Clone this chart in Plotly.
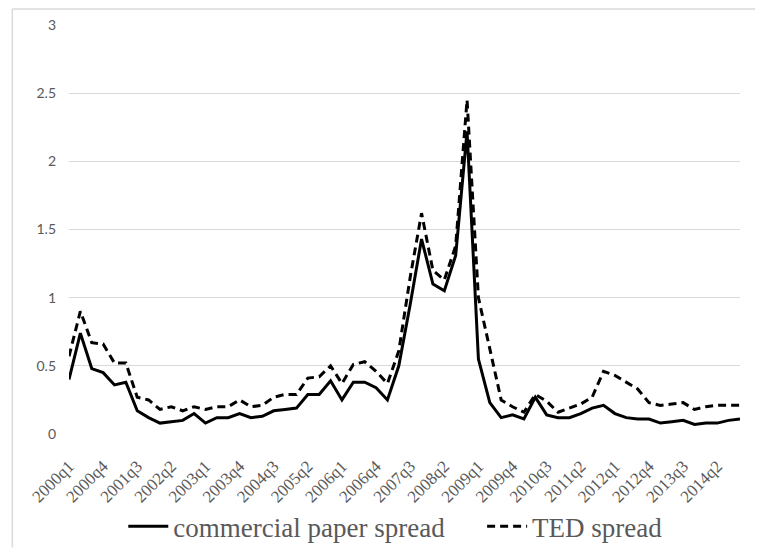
import plotly.graph_objects as go

quarters = [f"{y}q{q}" for y in range(2000, 2015) for q in range(1, 5)]

commercial_paper = [
    0.40, 0.74, 0.48, 0.45, 0.36, 0.38, 0.17, 0.12, 0.08, 0.09,
    0.10, 0.15, 0.08, 0.12, 0.12, 0.15, 0.12, 0.13, 0.17, 0.18,
    0.19, 0.29, 0.29, 0.39, 0.25, 0.38, 0.38, 0.34, 0.25, 0.50,
    0.95, 1.43, 1.10, 1.05, 1.31, 2.22, 0.55, 0.23, 0.12, 0.14,
    0.11, 0.27, 0.14, 0.12, 0.12, 0.15, 0.19, 0.21, 0.15, 0.12,
    0.11, 0.11, 0.08, 0.09, 0.10, 0.07, 0.08, 0.08, 0.10, 0.11,
]

ted_spread = [
    0.57, 0.90, 0.67, 0.66, 0.52, 0.52, 0.27, 0.25, 0.18, 0.20,
    0.17, 0.20, 0.18, 0.20, 0.20, 0.25, 0.20, 0.21, 0.27, 0.29,
    0.29, 0.41, 0.42, 0.50, 0.37, 0.51, 0.53, 0.46, 0.37, 0.61,
    1.15, 1.62, 1.20, 1.13, 1.38, 2.45, 1.00, 0.62, 0.25, 0.20,
    0.16, 0.29, 0.24, 0.16, 0.19, 0.22, 0.27, 0.46, 0.43, 0.38,
    0.33, 0.23, 0.21, 0.22, 0.23, 0.18, 0.20, 0.21, 0.21, 0.21,
]

tick_labels = quarters[::3]
y_ticks = [0, 0.5, 1, 1.5, 2, 2.5, 3]
y_tick_text = ["0", "0.5", "1", "1.5", "2", "2.5", "3"]

fig = go.Figure()
fig.add_trace(go.Scatter(
    x=quarters, y=commercial_paper, mode="lines", name="commercial paper spread",
    line=dict(color="black", width=3, dash="solid"), legend="legend",
))
fig.add_trace(go.Scatter(
    x=quarters, y=ted_spread, mode="lines", name="TED spread",
    line=dict(color="black", width=3, dash="8px,5px"), legend="legend2",
))

# page has an 8px body margin; work in page pixels and convert
OFF = 8
W, H = 763 - OFF, 548 - OFF
left, right, top, bottom = 68.7 - OFF, 740.0 - OFF, 25.0 - OFF, 434.3 - OFF
pw, ph = right - left, bottom - top

def px_x(p):
    return (p - OFF - left) / pw

def px_y(p):
    return (bottom - (p - OFF)) / ph

border = dict(color="#d9d9d9", width=1.5)
fig.add_shape(type="line", xref="paper", yref="paper",
              x0=px_x(12), x1=px_x(763), y0=px_y(9), y1=px_y(9), line=border)
fig.add_shape(type="line", xref="paper", yref="paper",
              x0=px_x(12), x1=px_x(12), y0=px_y(9), y1=px_y(548), line=border)

legend_font = dict(family="Liberation Serif", size=27, color="#595959")

fig.update_layout(
    width=W, height=H,
    margin=dict(l=left, r=W - right, t=top, b=H - bottom, autoexpand=False),
    paper_bgcolor="white", plot_bgcolor="white",
    showlegend=True,
    legend=dict(orientation="h", x=px_x(123), xanchor="left", y=px_y(527), yanchor="middle",
                font=legend_font, itemwidth=40, bgcolor="rgba(0,0,0,0)"),
    legend2=dict(orientation="h", x=px_x(482), xanchor="left", y=px_y(527), yanchor="middle",
                 font=legend_font, itemwidth=40, bgcolor="rgba(0,0,0,0)"),
    xaxis=dict(
        type="category", categoryorder="array", categoryarray=quarters,
        range=[0, len(quarters) - 1],
        tickmode="array", tickvals=tick_labels, ticktext=tick_labels,
        tickangle=-45, showgrid=False, zeroline=False, showline=False,
        ticks="", ticklabelstandoff=18,
        tickfont=dict(family="Liberation Serif", size=17, color="#595959"),
    ),
    yaxis=dict(
        range=[0, 3], tickmode="array", tickvals=y_ticks, ticktext=y_tick_text,
        showgrid=True, gridcolor="#d9d9d9", gridwidth=1, zeroline=False,
        showline=False, ticks="", ticklabelstandoff=12,
        tickfont=dict(family="Lato", size=14, color="#595959"),
    ),
)

fig.write_html("out.html")
